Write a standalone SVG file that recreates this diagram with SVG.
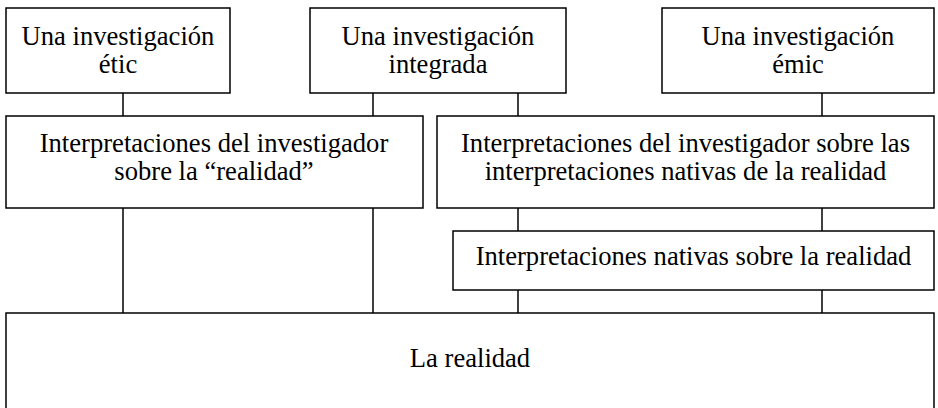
<svg xmlns="http://www.w3.org/2000/svg" width="938" height="408" viewBox="0 0 938 408">
<style>
.box{fill:#fff;stroke:#000;stroke-width:1.5}
.ln{stroke:#000;stroke-width:1.5;fill:none}
text{font-family:"Liberation Serif","Times New Roman",serif;font-size:26.6px;fill:#000;text-anchor:middle}
</style>
<rect x="0" y="0" width="938" height="408" fill="#fff"/>
<g id="connectors">
<line class="ln" x1="123" y1="93" x2="123" y2="116"/>
<line class="ln" x1="373" y1="93" x2="373" y2="116"/>
<line class="ln" x1="518" y1="93" x2="518" y2="116"/>
<line class="ln" x1="822" y1="93" x2="822" y2="116"/>
<line class="ln" x1="123" y1="208" x2="123" y2="313"/>
<line class="ln" x1="373" y1="208" x2="373" y2="313"/>
<line class="ln" x1="518" y1="208" x2="518" y2="231"/>
<line class="ln" x1="822" y1="208" x2="822" y2="231"/>
<line class="ln" x1="518" y1="290" x2="518" y2="313"/>
<line class="ln" x1="822" y1="290" x2="822" y2="313"/>
</g>
<g id="etic">
<rect class="box" x="6" y="8" width="224" height="85"/>
<text x="118" y="45">Una investigación</text>
<text x="118" y="73">étic</text>
</g>
<g id="integrada">
<rect class="box" x="310" y="8" width="256" height="85"/>
<text x="438" y="45">Una investigación</text>
<text x="438" y="73">integrada</text>
</g>
<g id="emic">
<rect class="box" x="662" y="8" width="272" height="85"/>
<text x="798" y="45">Una investigación</text>
<text x="798" y="73">émic</text>
</g>
<g id="interp-investigador">
<rect class="box" x="6" y="116" width="417" height="92"/>
<text x="214" y="152">Interpretaciones del investigador</text>
<text x="214" y="180">sobre la “realidad”</text>
</g>
<g id="interp-investigador-nativas">
<rect class="box" x="437" y="116" width="497" height="92"/>
<text x="685.5" y="152">Interpretaciones del investigador sobre las</text>
<text x="685.5" y="180">interpretaciones nativas de la realidad</text>
</g>
<g id="interp-nativas">
<rect class="box" x="453" y="231" width="481" height="59"/>
<text x="693.5" y="265">Interpretaciones nativas sobre la realidad</text>
</g>
<g id="realidad">
<rect class="box" x="6" y="313" width="928" height="100"/>
<text x="470" y="367">La realidad</text>
</g>
</svg>
